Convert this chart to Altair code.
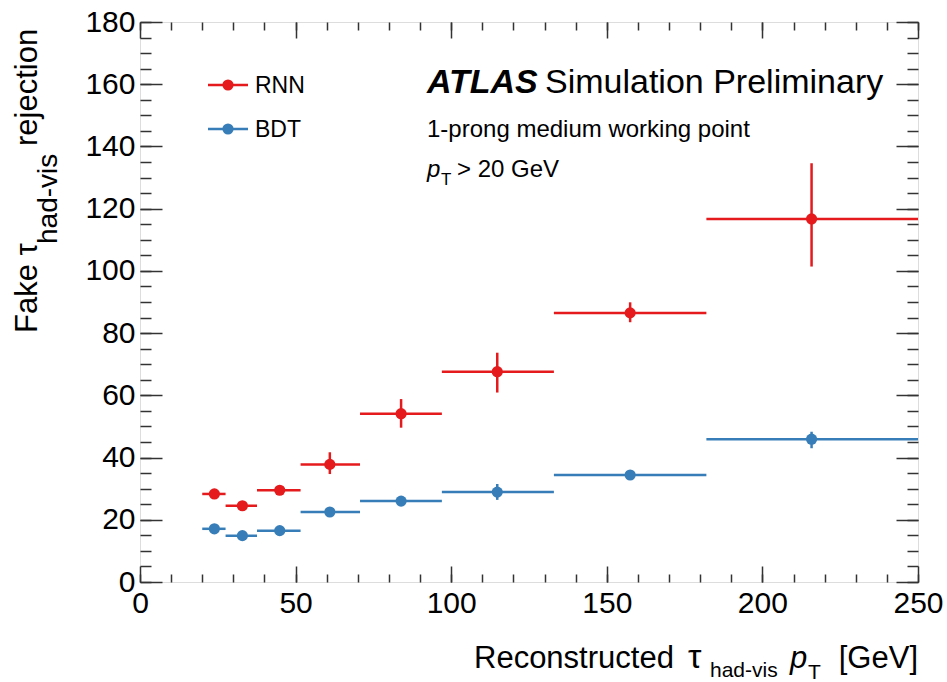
import altair as alt
import pandas as pd

# ---------------- data ----------------
series = ["RNN", "BDT"]
colors = ["#e41a1c", "#377eb8"]

bin_lo = [20.0, 27.5, 37.6, 51.6, 70.7, 97.0, 133.0, 182.0]
bin_hi = [27.5, 37.6, 51.6, 70.7, 97.0, 133.0, 182.0, 250.0]
pt_mean = [23.9, 32.9, 44.9, 61.0, 83.9, 114.8, 157.5, 215.8]

rnn_val = [28.3, 24.5, 29.5, 37.8, 54.1, 67.6, 86.5, 116.7]
rnn_lo = [27.4, 23.7, 28.6, 34.7, 49.6, 60.9, 83.5, 101.4]
rnn_hi = [29.2, 25.3, 30.4, 41.7, 58.8, 73.7, 89.9, 134.6]

bdt_val = [17.1, 14.9, 16.5, 22.5, 26.0, 28.9, 34.4, 45.9]
bdt_lo = [16.6, 14.4, 16.0, 21.8, 25.3, 26.4, 33.6, 43.0]
bdt_hi = [17.6, 15.4, 17.0, 23.2, 26.7, 31.5, 35.2, 48.3]

x_major = [0, 50, 100, 150, 200, 250]
x_minor = list(range(0, 251, 10))
y_major = [0, 20, 40, 60, 80, 100, 120, 140, 160, 180]
y_minor = list(range(0, 181, 5))

rows = []
for name, vals, los, his in [("RNN", rnn_val, rnn_lo, rnn_hi), ("BDT", bdt_val, bdt_lo, bdt_hi)]:
    for i in range(len(vals)):
        rows.append(dict(series=name, x0=bin_lo[i], x1=bin_hi[i], pt=pt_mean[i],
                         val=vals[i], lo=los[i], hi=his[i]))
df = pd.DataFrame(rows)

FONT = "Liberation Sans"
W, H = 778, 560
xscale = alt.Scale(domain=[0, 250], nice=False, zero=False)
yscale = alt.Scale(domain=[0, 180], nice=False, zero=False)
cscale = alt.Scale(domain=series, range=colors)
color_enc = alt.Color("series:N", scale=cscale, legend=None)

base = alt.Chart(df)

xerr = base.mark_rule(strokeWidth=2.5).encode(
    x=alt.X("x0:Q", scale=xscale, axis=None),
    x2="x1:Q",
    y=alt.Y("val:Q", scale=yscale, axis=None),
    color=color_enc,
)
yerr = base.mark_rule(strokeWidth=2.5).encode(
    x=alt.X("pt:Q", scale=xscale, axis=None),
    y=alt.Y("lo:Q", scale=yscale, axis=None),
    y2="hi:Q",
    color=color_enc,
)
points = base.mark_circle(size=125, opacity=1).encode(
    x=alt.X("pt:Q", scale=xscale,
            axis=alt.Axis(orient="bottom", values=x_major, ticks=False, domain=False, grid=False,
                          labelFontSize=30, labelFont=FONT, labelColor="#000", labelPadding=6,
                          title=None, labelFlush=False)),
    y=alt.Y("val:Q", scale=yscale,
            axis=alt.Axis(orient="left", values=y_major, ticks=False, domain=False, grid=False,
                          labelFontSize=30, labelFont=FONT, labelColor="#000", labelPadding=5,
                          title=None, labelFlush=False)),
    color=color_enc,
)


def tick_layer(xorient, xlen, xvals, yorient, ylen, yvals):
    return base.mark_point(opacity=0, size=1).encode(
        x=alt.X("pt:Q", scale=xscale,
                axis=alt.Axis(orient=xorient, offset=-xlen, tickSize=xlen, values=xvals,
                              labels=False, domain=False, grid=False, title=None,
                              tickColor="#333", tickWidth=1.5)),
        y=alt.Y("val:Q", scale=yscale,
                axis=alt.Axis(orient=yorient, offset=-ylen, tickSize=ylen, values=yvals,
                              labels=False, domain=False, grid=False, title=None,
                              tickColor="#333", tickWidth=1.5)),
    )


ticks = [
    tick_layer("bottom", 16, x_major, "left", 22, y_major),
    tick_layer("bottom", 8, x_minor, "left", 11, y_minor),
    tick_layer("top", 16, x_major, "right", 22, y_major),
    tick_layer("top", 8, x_minor, "right", 11, y_minor),
]

# ---------------- legend (drawn by hand, ROOT style) ----------------
legend_layers = []
for i, name in enumerate(series):
    ldf = alt.Chart(pd.DataFrame({"series": [name]}))
    yy = 63 + 44 * i
    legend_layers.append(ldf.mark_rule(strokeWidth=2.5).encode(
        x=alt.value(68), x2=alt.value(108), y=alt.value(yy), color=color_enc))
    legend_layers.append(ldf.mark_circle(size=125, opacity=1).encode(
        x=alt.value(88), y=alt.value(yy), color=color_enc))
    legend_layers.append(ldf.mark_text(font=FONT, fontSize=23, align="left", baseline="middle",
                                       color="#000").encode(
        x=alt.value(115), y=alt.value(yy + 1), text="series:N"))


def label(text, x, y, size, angle=0, style="normal", weight="normal", align="left"):
    return alt.Chart(pd.DataFrame({"t": [text]})).mark_text(
        font=FONT, fontSize=size, fontStyle=style, fontWeight=weight, align=align,
        baseline="alphabetic", angle=angle, color="#000",
    ).encode(x=alt.value(x), y=alt.value(y), text="t:N")


texts = [
    # ATLAS label block
    label("ATLAS", 287, 71, 34, style="italic", weight="bold"),
    label("Simulation Preliminary", 405, 71, 34),
    label("1-prong medium working point", 287, 115, 24),
    label("p", 287, 155, 24, style="italic"),
    label("T", 301, 163, 17),
    label("> 20 GeV", 317, 155, 24),
    # x-axis title
    label("Reconstructed", 334, 646, 31),
    label("τ", 548, 646, 34),
    label("had-vis", 570, 655, 21),
    label("p", 650, 646, 31, style="italic"),
    label("T", 668, 657, 21),
    label("[GeV]", 778, 646, 31, align="right"),
    # y-axis title (rotated)
    label("Fake τ", -103, 311, 31, angle=270),
    label("had-vis", -83, 222, 28, angle=270),
    label("rejection", -103, 124, 31, angle=270),
]

chart = alt.layer(xerr, yerr, points, *ticks, *legend_layers, *texts).resolve_axis(
    x="independent", y="independent"
).properties(
    width=W, height=H,
    autosize=alt.AutoSizeParams(type="none"),
    padding={"left": 140, "top": 22, "right": 29, "bottom": 100},
).configure_view(
    stroke="#333", strokeWidth=1.6
).configure(background="white")

chart.save("out.html", embed_options={"renderer": "svg", "actions": False})
